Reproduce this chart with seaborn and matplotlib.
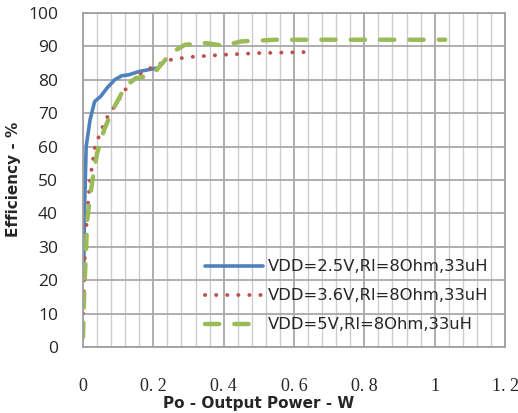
import matplotlib
matplotlib.use("Agg")
import matplotlib.pyplot as plt
from matplotlib.ticker import MultipleLocator, FixedLocator
import seaborn as sns
import pandas as pd

# ---- data ----
blue_x = [0.002, 0.004, 0.009, 0.02, 0.033, 0.05, 0.068, 0.09, 0.11, 0.13, 0.16, 0.21]
blue_y = [20, 40, 60, 68, 73.5, 75, 77.5, 80, 81.2, 81.5, 82.5, 83.5]

red_x = [0.0, 0.003, 0.006, 0.012, 0.02, 0.034, 0.06, 0.075, 0.09, 0.12, 0.15, 0.2, 0.25, 0.3, 0.4, 0.5, 0.635]
red_y = [10, 20, 30, 40, 50, 60, 67, 70, 72, 77, 81, 84, 86, 86.8, 87.5, 88, 88.3]

green_x = [0.0, 0.003, 0.007, 0.012, 0.02, 0.03, 0.04, 0.06, 0.08, 0.1, 0.12, 0.15, 0.18, 0.21,
           0.25, 0.29, 0.35, 0.4, 0.45, 0.55, 0.7, 0.85, 1.03]
green_y = [3, 15, 25, 38, 45, 52, 58, 65, 70, 74, 78, 80.5, 81, 83,
           88, 90.5, 91, 90.2, 91.5, 92, 92, 92, 92]

labels = ["VDD=2.5V,Rl=8Ohm,33uH", "VDD=3.6V,Rl=8Ohm,33uH", "VDD=5V,Rl=8Ohm,33uH"]
xtick_vals = [0, 0.2, 0.4, 0.6, 0.8, 1.0, 1.2]
xtick_labels = ["0", "0. 2", "0. 4", "0. 6", "0. 8", "1", "1. 2"]
ytick_vals = list(range(0, 101, 10))

colors = ["#4F81BD", "#C0504D", "#9BBB59"]

sns.set_style("white")
plt.rcParams['font.family'] = ['DejaVu Sans']

fig = plt.figure(figsize=(5.18, 4.13), dpi=100)
ax = fig.add_axes([83/518, 66/413, 422/518, 334/413])

series = [(blue_x, blue_y), (red_x, red_y), (green_x, green_y)]
styles = [dict(linestyle="-", linewidth=2.6),
          dict(linestyle=(0, (0.05, 2.8)), linewidth=2.8, dash_capstyle="round"),
          dict(linestyle=(0, (3.2, 3.4)), linewidth=3.2, dash_capstyle="round")]

for (xs, ys), c, st, lab in zip(series, colors, styles, labels):
    df = pd.DataFrame({"x": xs, "y": ys})
    sns.lineplot(data=df, x="x", y="y", ax=ax, color=c, label=lab, sort=False,
                 estimator=None, **st)

ax.set_xlim(0, 1.2)
ax.set_ylim(0, 100)
ax.xaxis.set_major_locator(FixedLocator(xtick_vals))
ax.xaxis.set_minor_locator(MultipleLocator(0.04))
ax.set_xticklabels(xtick_labels, family="Liberation Serif", fontsize=13)
ax.set_yticks(ytick_vals)
ax.set_yticklabels([str(v) for v in ytick_vals], family="Open Sans", fontsize=12.5)
ax.tick_params(axis="x", which="both", length=0, pad=22)
ax.tick_params(axis="y", which="both", length=0, pad=18)

ax.grid(True, which="major", color="#a8a8a8", linewidth=1.3)
ax.grid(True, which="minor", axis="x", color="#cccccc", linewidth=1.0)
ax.set_axisbelow(True)
for sp in ax.spines.values():
    sp.set_color("#a0a0a0")
    sp.set_linewidth(1.3)

ax.set_xlabel("Po - Output Power - W", fontsize=11, fontweight="bold")
ax.set_ylabel("Efficiency - %", fontsize=11, fontweight="bold")
ax.xaxis.set_label_coords(0.417, -0.147)
ax.yaxis.set_label_coords(-0.147, 0.503)

leg = ax.legend(loc="upper left", bbox_to_anchor=(0.29, 0.262), frameon=False,
                fontsize=11.8, handlelength=3.5, handletextpad=0.3, labelspacing=0.85,
                borderpad=0, borderaxespad=0)

fig.savefig("out.png", dpi=100)
